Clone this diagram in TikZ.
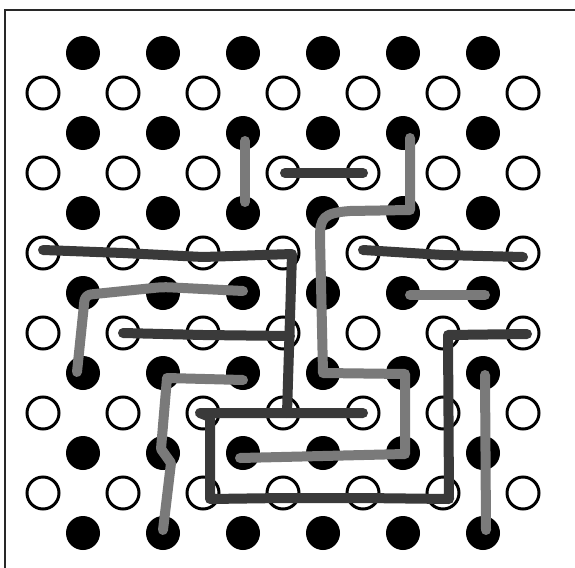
\documentclass[tikz,border=0pt]{standalone}
\definecolor{wireL}{RGB}{122,122,122}
\definecolor{wireD}{RGB}{58,58,58}
\definecolor{frameC}{RGB}{40,40,40}
\begin{document}
\begin{tikzpicture}[x=1pt,y=-1pt,
  blackdot/.style={circle,fill=black,inner sep=0pt,minimum size=34pt},
  opendot/.style={circle,draw=black,fill=white,line width=3pt,inner sep=0pt,minimum size=32pt},
  lightwire/.style={draw=wireL,line width=10pt,line cap=round,line join=round},
  darkwire/.style={draw=wireD,line width=10pt,line cap=round,line join=round},
  framedge/.style={draw=frameC,line width=2.6pt}]
\useasboundingbox (0,0) rectangle (575,567);
\fill[white] (0,0) rectangle (575,567);
\coordinate (fb) at (5,570);
\coordinate (fc) at (5,10);
\coordinate (fr) at (578,10);
\draw[framedge] (fb) -- (fc) -- (fr);
% dots
\foreach \c in {1,3,...,11}
  \foreach \r in {0,2,...,12}
    \node[blackdot] (b-\c-\r) at ({43+40*\c},{53+40*\r}) {};
\foreach \c in {0,2,...,12}
  \foreach \r in {1,3,...,11}
    \node[opendot] (o-\c-\r) at ({43+40*\c},{53+40*\r}) {};
% light wires (black dots)
\draw[lightwire] ([shift={(2,8)}]b-5-2.center) -- ([shift={(2,-11)}]b-5-4.center);
\draw[lightwire] ([shift={(7,5)}]b-9-2.center) -- ([shift={(7,-3)}]b-9-4.center)
  -- ([shift={(27,-2)}]b-7-4.center)
  .. controls ([shift={(0,0)}]b-7-4.center) and ([shift={(-3,5)}]b-7-4.center) .. ([shift={(-3,25)}]b-7-4.center)
  -- ([shift={(0,0)}]b-7-8.center) -- ([shift={(2,1)}]b-9-8.center)
  -- ([shift={(2,1)}]b-9-10.center) -- ([shift={(-3,5)}]b-5-10.center);
\draw[lightwire,rounded corners=6pt] ([shift={(-6,-1)}]b-1-8.center) -- ([shift={(2,2)}]b-1-6.center)
  -- ([shift={(0,-6)}]b-3-6.center) -- ([shift={(0,-2)}]b-5-6.center);
\draw[lightwire] ([shift={(0,7)}]b-5-8.center) -- ([shift={(4,5)}]b-3-8.center)
  -- ([shift={(-2,-4)}]b-3-10.center) -- ([shift={(8,10)}]b-3-10.center)
  -- ([shift={(0,-3)}]b-3-12.center);
\draw[lightwire] ([shift={(7,2)}]b-9-6.center) -- ([shift={(2,2)}]b-11-6.center);
\draw[lightwire] ([shift={(2,2)}]b-11-8.center) -- ([shift={(3,-3)}]b-11-12.center);
% dark wires (open circles)
\draw[darkwire] ([shift={(2,0)}]o-6-3.center) -- (o-8-3.center);
\draw[darkwire] ([shift={(0,-3)}]o-0-5.center) -- (o-2-5.center) -- ([shift={(0,4)}]o-4-5.center)
  -- ([shift={(9,1)}]o-6-5.center) -- ([shift={(4,0)}]o-6-9.center);
\draw[darkwire] (o-2-7.center) -- ([shift={(0,2)}]o-4-7.center) -- ([shift={(7,3)}]o-6-7.center);
\draw[darkwire] (o-8-9.center) -- ([shift={(-3,0)}]o-4-9.center) -- ([shift={(7,4)}]o-4-9.center)
  -- ([shift={(7,6)}]o-4-11.center) -- ([shift={(0,5)}]o-6-11.center) -- ([shift={(0,5)}]o-8-11.center)
  -- ([shift={(6,6)}]o-10-11.center) -- ([shift={(5,2)}]o-10-7.center) -- ([shift={(4,1)}]o-12-7.center);
\draw[darkwire] ([shift={(0,-3)}]o-8-5.center) -- ([shift={(0,2)}]o-10-5.center) -- ([shift={(0,4)}]o-12-5.center);
\end{tikzpicture}
\end{document}
